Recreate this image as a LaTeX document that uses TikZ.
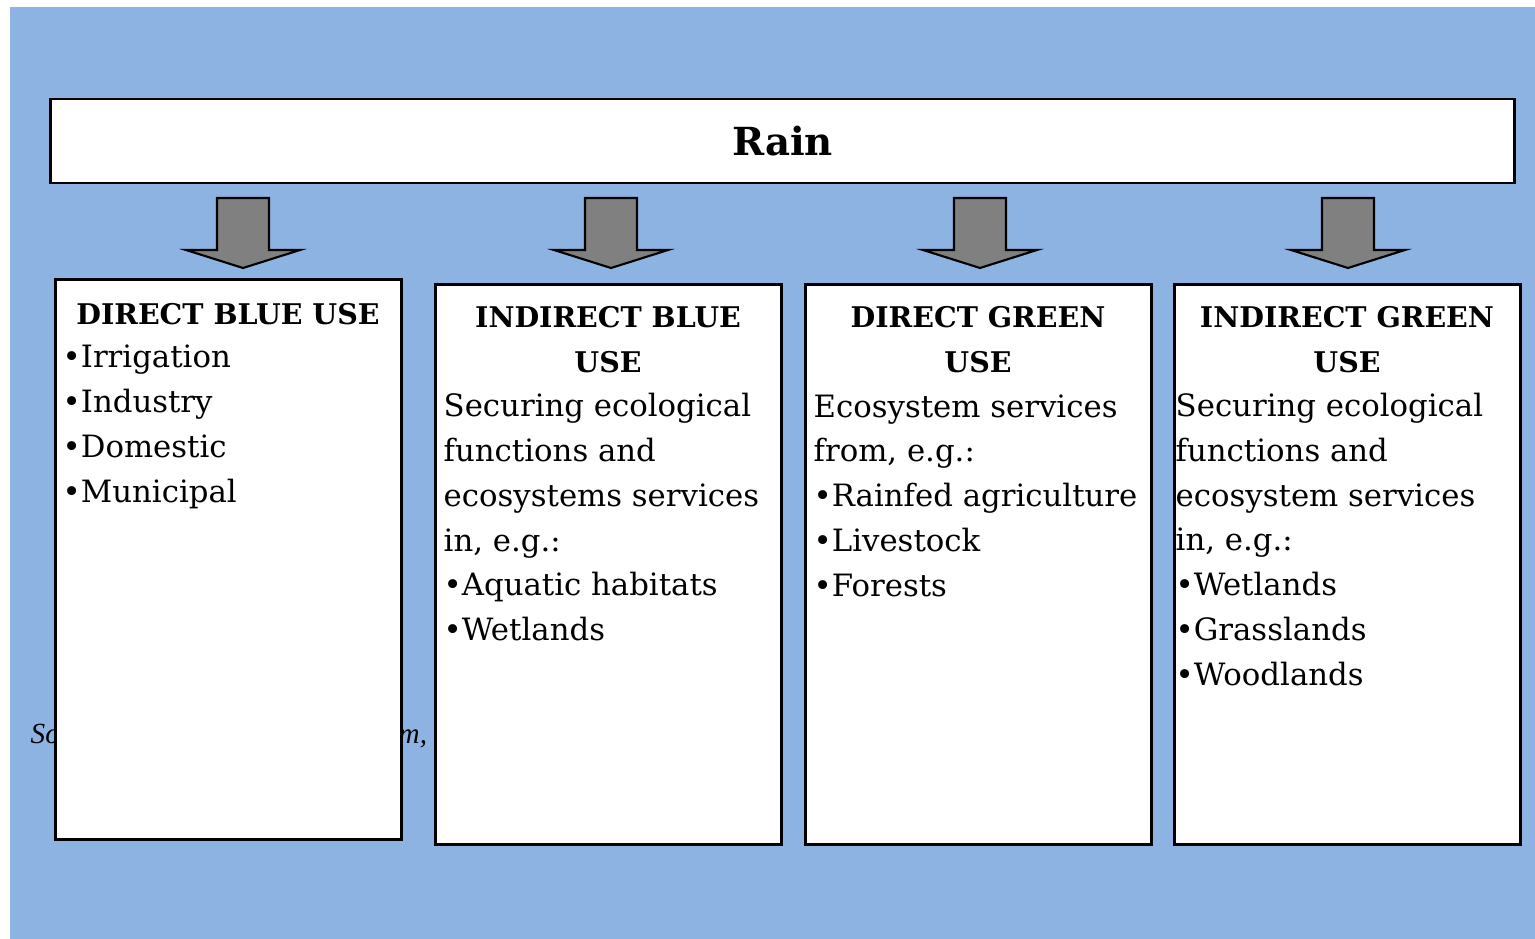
\documentclass[tikz,border=0pt]{standalone}
\usepackage{fontspec}
\setmainfont{DejaVu Serif}
\newfontfamily\srcfont{Liberation Serif}
\usetikzlibrary{positioning}
\definecolor{skyback}{HTML}{8DB3E2}
\definecolor{arrowgray}{HTML}{808080}
\tikzset{
  usebox/.style={draw, line width=0.8pt, fill=white, inner sep=0pt,
    minimum width=3.45cm, minimum height=5.59cm},
  headtext/.style={inner sep=0pt, align=center, anchor=base,
    font=\fontsize{8.1}{12.72}\selectfont\bfseries},
  listtext/.style={inner sep=0pt, align=left, anchor=base west,
    font=\fontsize{8.75}{12.72}\selectfont},
  srctext/.style={inner sep=0pt, anchor=base west,
    font=\srcfont\itshape\fontsize{8.3}{9}\selectfont},
  downflow/.style={draw, line width=0.6pt, fill=arrowgray, line join=miter}
}

\begin{document}
\begin{tikzpicture}[x=0.01cm, y=-0.01cm]
  \useasboundingbox (0,0) rectangle (1535,939);
  \fill[skyback] (10,7) rectangle (1535,939);
  % source line, mostly hidden behind the boxes
  \node[srctext] (srcA) at (30,743) {So};
  \node[srctext] (srcB) at (398,743) {m, .};
  % top box
  \node[draw, line width=0.8pt, fill=white, inner sep=0pt,
        minimum width=14.63cm, minimum height=0.84cm,
        font=\fontsize{11}{13}\selectfont\bfseries] (rain) at (782.5,141) {Rain};
  % block arrows
  \foreach \x in {243,611,980,1348}
    \draw[downflow] (\x-26,198) -- (\x+26,198) -- (\x+26,250) -- (\x+57,250)
      -- (\x,268) -- (\x-57,250) -- (\x-26,250) -- cycle;
  % the four uses (text nodes sit on the baseline of their last line)
  \node[usebox] (dblue) at (228.5,559.5) {};
  \node[usebox] (iblue) at (608.5,564.5) {};
  \node[usebox] (dgreen) at (978.5,564.5) {};
  \node[usebox] (igreen) at (1347.5,564.5) {};
  \node[headtext] (dbluehead) at (228,324) {DIRECT BLUE USE};
  \node[listtext] (dbluelist) at (62,502) {\textbullet Irrigation\\\textbullet Industry\\\textbullet Domestic\\\textbullet Municipal};
  \node[headtext] (ibluehead) at (608,372) {INDIRECT BLUE\\USE};
  \node[listtext] (ibluelist) at (443,640.5) {Securing ecological\\functions and\\ecosystems services\\in, e.g.:\\\textbullet Aquatic habitats\\\textbullet Wetlands};
  \node[headtext] (dgreenhead) at (978,372) {DIRECT GREEN\\USE};
  \node[listtext] (dgreenlist) at (813,596) {Ecosystem services\\from, e.g.:\\\textbullet Rainfed agriculture\\\textbullet Livestock\\\textbullet Forests};
  \node[headtext] (igreenhead) at (1347,372) {INDIRECT GREEN\\USE};
  \node[listtext] (igreenlist) at (1175,685) {Securing ecological\\functions and\\ecosystem services\\in, e.g.:\\\textbullet Wetlands\\\textbullet Grasslands\\\textbullet Woodlands};
\end{tikzpicture}
\end{document}
